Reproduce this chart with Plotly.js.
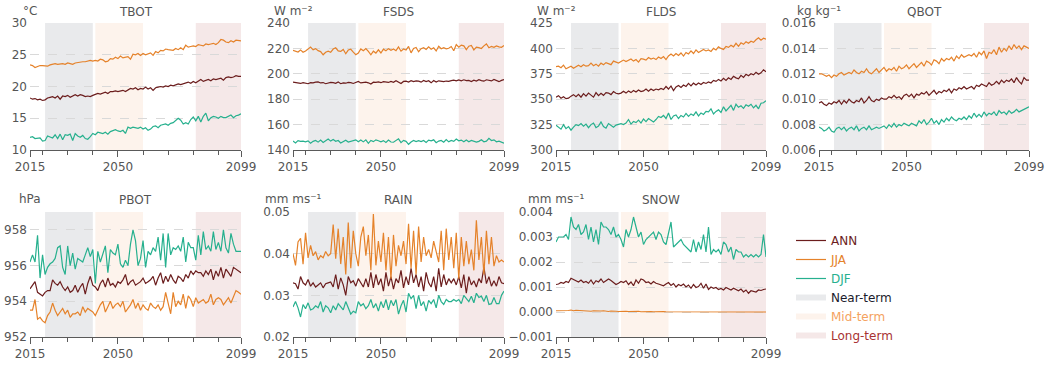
<!DOCTYPE html>
<html>
<head>
<meta charset="utf-8">
<script src="https://cdn.plot.ly/plotly-3.0.1.min.js"></script>
<style>html,body{margin:0;padding:0;background:#fff;}#chart{width:1047px;height:367px;}</style>
</head>
<body>
<div id="chart"></div>
<script>
// ---------------- DATA ----------------
const startYear = 2015, endYear = 2099;
const years = Array.from({length: endYear - startYear + 1}, (_, i) => startYear + i);
const variables = ["TBOT", "FSDS", "FLDS", "QBOT", "PBOT", "RAIN", "SNOW"];
const units = ["°C", "W m⁻²", "W m⁻²", "kg kg⁻¹", "hPa", "mm ms⁻¹", "mm ms⁻¹"];
const seasons = ["ANN", "JJA", "DJF"];
const periodNames = ["Near-term", "Mid-term", "Long-term"];
const periodStart = [2021, 2041, 2081];
const periodEnd = [2040, 2060, 2100];
const xTickLabels = [2015, 2050, 2099];
const xMinorTicks = [2020, 2030, 2040, 2050, 2060, 2070, 2080, 2090];

const tbotANN = [18.2,18.0,18.1,17.9,18.0,17.8,17.9,18.2,18.3,18.4,
  18.2,18.5,18.0,18.5,18.4,18.6,18.3,18.5,18.7,18.5,
  18.7,18.6,18.4,18.5,18.4,18.6,18.8,18.9,18.8,19.0,
  19.1,18.9,19.2,19.2,19.3,19.2,19.3,19.4,19.2,19.5,
  19.7,19.6,19.8,19.5,19.7,19.6,19.9,19.6,19.8,19.4,
  19.8,19.9,20.0,19.9,20.1,20.0,20.2,20.1,20.3,20.4,
  20.3,20.4,20.6,20.7,20.5,20.8,20.6,20.9,21.1,20.8,
  21.0,21.1,20.9,21.2,21.1,21.2,21.3,21.0,21.4,21.5,
  21.4,21.5,21.7,21.6,21.6];
const tbotJJA = [23.4,23.3,23.0,23.2,23.3,23.3,23.3,23.2,23.4,23.5,
  23.6,23.5,23.6,23.6,23.5,23.7,23.6,23.5,23.7,23.8,
  23.8,23.9,23.9,24.0,24.1,24.0,24.1,24.0,24.3,24.2,
  23.9,24.0,24.4,24.3,24.6,24.4,24.8,24.5,24.6,24.7,
  24.3,25.1,25.0,25.2,24.9,25.2,25.0,25.1,25.3,24.9,
  25.5,25.3,25.7,25.6,25.9,25.8,25.7,25.7,26.0,25.8,
  26.1,25.8,26.5,26.2,26.3,26.4,26.3,26.6,26.5,26.4,
  26.7,26.6,26.7,26.8,26.6,26.9,27.4,27.3,27.0,26.9,
  27.2,27.0,27.3,27.2,27.2];
const tbotDJF = [12.0,12.1,11.8,11.9,11.9,11.4,11.5,12.2,12.1,11.9,
  12.4,11.8,12.5,11.6,12.4,12.3,12.5,11.5,12.6,12.2,
  12.0,12.3,11.8,11.7,12.1,12.6,12.4,12.8,12.7,12.6,
  12.8,12.5,12.9,13.1,13.2,13.0,12.9,13.1,12.6,13.6,
  13.4,13.6,13.5,13.4,13.6,13.3,13.5,13.1,13.3,13.7,
  13.8,13.5,13.9,14.0,14.1,13.9,14.2,14.3,14.6,15.0,
  14.7,14.1,14.3,14.1,14.8,15.2,14.6,15.3,14.4,15.3,
  15.8,14.6,15.1,15.3,15.2,15.0,15.3,15.1,15.1,15.3,
  15.5,15.1,15.4,15.5,15.7];

const fsdsANN = [193.5,193.2,193.0,192.4,193.1,192.6,192.2,193.0,192.8,193.4,
  193.6,192.8,193.1,192.2,192.9,193.3,193.0,192.5,193.5,192.2,
  192.9,192.6,193.2,193.1,192.4,193.3,194.0,192.8,193.0,193.5,
  192.9,192.0,193.4,193.2,193.6,193.0,193.8,193.4,193.2,194.0,
  193.3,194.5,193.6,192.4,194.0,194.2,193.5,194.6,193.8,194.4,
  194.2,193.4,194.8,193.9,194.5,192.9,194.7,193.5,194.5,194.2,
  193.8,194.3,194.0,194.6,195.0,194.5,195.2,194.5,195.3,194.6,
  194.8,193.9,195.0,194.3,195.4,194.6,194.2,195.3,195.0,194.4,
  195.6,194.8,193.8,194.8,195.5];
const fsdsJJA = [218.5,217.6,217.2,218.8,217.0,218.0,219.6,221.0,218.9,219.8,
  218.2,217.5,215.0,217.0,217.8,216.9,219.5,220.5,218.0,217.6,
  219.2,215.8,218.7,219.3,217.0,215.0,216.4,219.6,218.2,219.9,
  217.6,215.0,217.8,216.3,218.9,216.4,219.4,218.2,219.8,218.5,
  219.6,218.2,221.2,217.8,219.5,218.7,221.6,216.5,220.0,220.8,
  217.4,219.8,220.6,219.2,221.2,219.4,220.5,218.0,221.7,219.7,
  220.5,219.6,220.1,221.5,218.2,223.0,221.0,222.6,222.0,219.0,
  221.7,222.3,218.8,221.0,220.6,219.9,222.0,223.5,220.5,221.5,
  220.8,221.9,221.2,220.9,222.2];
const fsdsDJF = [147.0,145.6,147.4,146.8,147.0,146.5,147.2,145.4,146.8,147.5,
  146.2,147.8,146.0,147.5,148.6,147.0,148.2,146.8,147.5,145.5,
  146.9,147.7,146.3,147.0,147.2,148.0,146.5,147.8,146.4,148.0,
  145.2,147.5,146.6,148.0,147.3,146.5,147.4,146.0,147.8,146.3,
  146.1,147.8,148.8,145.8,147.6,146.8,144.5,146.3,147.5,146.7,
  147.3,146.6,147.5,146.0,147.8,147.2,148.0,145.7,147.0,147.5,
  146.2,148.2,146.4,147.5,146.8,148.6,147.2,147.8,146.5,147.8,
  146.5,147.5,147.0,146.2,146.8,148.0,146.5,147.0,149.2,147.5,
  148.0,146.5,147.0,146.0,145.4];

const fldsANN = [352.0,353.5,351.0,352.5,350.5,351.0,353.0,354.5,352.5,354.8,
  352.0,355.5,353.0,356.0,354.0,352.0,356.5,353.5,355.8,353.8,
  356.5,356.0,354.5,357.5,355.8,355.2,356.0,357.8,356.0,358.0,
  356.5,358.5,357.0,359.0,357.5,358.2,360.0,357.8,360.0,358.5,
  360.0,359.2,360.5,359.5,362.5,360.0,363.0,358.5,362.0,363.5,
  361.5,364.0,362.5,365.5,363.0,365.8,364.0,366.0,364.5,366.5,
  365.5,367.0,366.0,368.5,367.5,369.5,368.0,370.5,368.5,371.0,
  369.5,372.5,371.0,370.0,373.5,371.5,374.5,373.0,375.0,374.0,
  376.5,374.5,376.0,379.0,377.0];
const fldsJJA = [382.0,382.5,381.0,383.5,380.0,381.5,382.5,380.5,382.0,383.5,
  382.0,384.0,382.5,383.0,385.5,383.0,384.5,382.5,385.5,384.0,
  386.0,385.0,384.0,387.5,386.5,385.5,387.0,388.5,387.0,388.0,
  389.5,387.5,389.0,386.5,390.0,389.5,388.5,391.0,389.5,390.5,
  389.0,391.5,390.0,392.0,389.0,392.5,394.5,392.5,395.0,393.0,
  395.5,392.5,396.0,394.5,397.5,395.0,398.5,396.0,397.5,399.0,
  397.5,398.5,397.0,400.0,398.5,401.5,400.0,399.0,402.0,401.0,
  403.0,401.5,405.0,402.0,405.5,404.0,406.5,405.0,407.0,406.0,
  408.5,410.5,408.0,410.0,409.0];
const fldsDJF = [324.5,322.0,320.5,325.0,321.0,323.0,319.5,322.5,325.0,324.0,
  326.0,323.5,325.5,322.0,325.0,326.5,322.0,323.5,327.5,323.0,
  321.5,326.0,324.5,322.5,324.5,325.0,326.0,325.0,326.5,330.0,
  325.5,328.0,327.0,329.5,326.5,330.5,328.0,331.0,329.5,327.5,
  330.0,333.0,332.0,334.0,331.0,336.5,330.0,333.5,334.5,331.0,
  334.0,332.5,336.0,333.0,335.5,334.0,337.5,333.5,336.5,335.0,
  338.0,337.5,340.5,335.5,338.0,339.5,337.0,342.5,338.5,341.0,
  344.0,339.0,345.0,342.0,343.5,341.0,344.5,343.0,345.0,341.5,
  344.0,340.5,346.0,346.5,348.5];

const qbotANN = [0.0097,0.0098,0.0096,0.0095,0.0097,0.0096,0.0098,0.0097,0.0099,0.0096,
  0.0099,0.0097,0.0100,0.0098,0.0097,0.0099,0.0098,0.0101,0.0097,0.0099,
  0.0102,0.0099,0.0098,0.0100,0.0099,0.0101,0.0100,0.0100,0.0102,0.0101,
  0.0103,0.0101,0.0102,0.0100,0.0103,0.0104,0.0102,0.0104,0.0101,0.0104,
  0.0103,0.0105,0.0104,0.0106,0.0103,0.0105,0.0107,0.0104,0.0106,0.0105,
  0.0107,0.0106,0.0108,0.0105,0.0108,0.0107,0.0109,0.0108,0.0110,0.0108,
  0.0109,0.0110,0.0108,0.0111,0.0110,0.0112,0.0111,0.0110,0.0113,0.0111,
  0.0112,0.0114,0.0112,0.0115,0.0113,0.0115,0.0114,0.0116,0.0113,0.0117,
  0.0114,0.0112,0.0117,0.0115,0.0115];
const qbotJJA = [0.0120,0.0120,0.0119,0.0118,0.0119,0.0117,0.0119,0.0118,0.0120,0.0121,
  0.0119,0.0120,0.0121,0.0120,0.0123,0.0121,0.0120,0.0122,0.0121,0.0124,
  0.0121,0.0120,0.0122,0.0124,0.0121,0.0123,0.0125,0.0122,0.0124,0.0123,
  0.0125,0.0122,0.0126,0.0124,0.0125,0.0127,0.0124,0.0126,0.0128,0.0125,
  0.0127,0.0129,0.0126,0.0130,0.0129,0.0127,0.0131,0.0130,0.0128,0.0132,
  0.0130,0.0132,0.0131,0.0133,0.0130,0.0134,0.0132,0.0135,0.0133,0.0134,
  0.0135,0.0134,0.0136,0.0133,0.0137,0.0135,0.0138,0.0132,0.0137,0.0136,
  0.0139,0.0135,0.0141,0.0137,0.0140,0.0138,0.0142,0.0139,0.0143,0.0140,
  0.0142,0.0139,0.0142,0.0141,0.0140];
const qbotDJF = [0.0078,0.0077,0.0075,0.0076,0.0078,0.0075,0.0074,0.0077,0.0078,0.0076,
  0.0078,0.0075,0.0077,0.0078,0.0076,0.0079,0.0075,0.0077,0.0078,0.0076,
  0.0079,0.0076,0.0077,0.0078,0.0077,0.0078,0.0079,0.0077,0.0080,0.0078,
  0.0081,0.0078,0.0080,0.0079,0.0081,0.0080,0.0079,0.0081,0.0080,0.0079,
  0.0083,0.0081,0.0084,0.0080,0.0082,0.0085,0.0081,0.0083,0.0080,0.0084,
  0.0082,0.0085,0.0083,0.0086,0.0084,0.0083,0.0085,0.0084,0.0086,0.0084,
  0.0087,0.0085,0.0089,0.0086,0.0088,0.0086,0.0090,0.0087,0.0089,0.0088,
  0.0090,0.0087,0.0091,0.0089,0.0090,0.0088,0.0091,0.0089,0.0090,0.0092,
  0.0090,0.0091,0.0092,0.0093,0.0094];

const pbotANN = [954.7,954.9,955.1,954.5,954.4,954.3,954.5,954.6,954.6,955.2,
  955.0,954.9,955.1,954.8,954.6,954.8,954.5,954.6,954.9,954.5,
  954.8,955.0,954.4,955.0,955.4,954.9,954.8,954.6,955.0,955.2,
  954.8,955.3,954.9,955.0,954.8,955.1,955.0,955.2,955.5,954.9,
  955.1,955.2,954.9,955.0,955.1,955.3,955.0,955.1,955.2,955.4,
  954.9,955.3,955.6,955.0,955.4,955.1,955.5,955.2,955.0,955.4,
  955.3,955.1,955.5,955.3,955.7,955.5,955.7,955.6,955.6,955.4,
  955.7,955.5,955.8,955.2,955.7,955.4,955.9,955.3,955.8,955.6,
  955.4,955.9,955.8,955.7,955.6];
const pbotJJA = [953.5,953.5,954.1,953.0,953.1,952.9,952.8,953.2,953.4,953.9,
  953.5,953.2,953.4,953.6,953.3,953.5,953.1,953.3,953.3,953.4,
  953.2,953.7,953.4,953.6,953.5,953.4,953.2,953.5,953.8,954.0,
  953.4,953.7,954.0,953.6,953.8,953.9,953.7,954.0,953.4,953.6,
  953.8,954.1,953.6,953.9,953.5,953.8,953.6,953.5,953.9,953.7,
  953.6,953.8,953.5,953.7,954.5,953.9,953.3,954.5,953.7,954.0,
  953.8,954.4,953.6,954.3,954.1,953.7,954.2,953.9,954.0,954.1,
  953.9,954.0,954.4,953.8,954.1,954.2,954.1,953.8,954.0,954.2,
  953.9,954.3,954.6,954.5,954.4];
const pbotDJF = [956.2,956.6,956.2,957.7,955.3,956.6,955.5,955.9,956.1,956.2,
  956.4,957.0,957.1,955.9,955.5,957.1,956.0,956.7,955.8,956.4,
  956.3,956.2,956.6,957.0,956.5,956.9,955.0,956.8,956.2,956.7,
  957.1,955.6,956.9,956.7,956.6,957.2,956.1,955.9,956.3,956.0,
  957.2,958.0,957.4,956.0,956.4,957.4,955.9,956.8,956.6,957.0,
  956.8,957.6,956.3,957.8,955.9,957.8,956.6,957.0,956.9,957.1,
  956.8,957.6,956.2,957.3,957.0,957.0,956.3,957.7,956.6,957.9,
  956.9,957.1,956.8,957.9,956.9,957.3,956.8,958.0,957.0,956.7,
  957.8,957.2,956.8,956.8,956.8];

const rainANN = [0.0330,0.0328,0.0315,0.0345,0.0330,0.0325,0.0338,0.0322,0.0330,0.0320,
  0.0325,0.0330,0.0318,0.0328,0.0330,0.0332,0.0320,0.0350,0.0315,0.0342,
  0.0325,0.0300,0.0345,0.0330,0.0335,0.0322,0.0340,0.0330,0.0320,0.0340,
  0.0320,0.0355,0.0318,0.0350,0.0325,0.0340,0.0310,0.0355,0.0322,0.0345,
  0.0315,0.0340,0.0330,0.0360,0.0318,0.0345,0.0325,0.0365,0.0330,0.0350,
  0.0320,0.0345,0.0310,0.0355,0.0330,0.0320,0.0345,0.0310,0.0365,0.0320,
  0.0350,0.0325,0.0340,0.0330,0.0340,0.0325,0.0345,0.0318,0.0350,0.0305,
  0.0345,0.0325,0.0335,0.0320,0.0340,0.0330,0.0368,0.0328,0.0345,0.0322,
  0.0335,0.0322,0.0345,0.0330,0.0328];
const rainJJA = [0.0400,0.0372,0.0428,0.0437,0.0375,0.0450,0.0390,0.0420,0.0395,0.0405,
  0.0385,0.0395,0.0390,0.0405,0.0395,0.0400,0.0470,0.0388,0.0460,0.0375,
  0.0440,0.0350,0.0475,0.0365,0.0455,0.0400,0.0370,0.0440,0.0465,0.0395,
  0.0445,0.0360,0.0495,0.0372,0.0430,0.0380,0.0450,0.0360,0.0440,0.0340,
  0.0445,0.0370,0.0420,0.0395,0.0430,0.0375,0.0472,0.0365,0.0455,0.0350,
  0.0465,0.0380,0.0440,0.0395,0.0410,0.0390,0.0430,0.0405,0.0380,0.0455,
  0.0360,0.0460,0.0385,0.0440,0.0365,0.0450,0.0340,0.0440,0.0370,0.0430,
  0.0375,0.0410,0.0360,0.0480,0.0385,0.0440,0.0350,0.0455,0.0375,0.0440,
  0.0370,0.0395,0.0380,0.0385,0.0380];
const rainDJF = [0.0272,0.0285,0.0270,0.0248,0.0278,0.0268,0.0282,0.0265,0.0268,0.0275,
  0.0270,0.0285,0.0260,0.0275,0.0270,0.0258,0.0275,0.0265,0.0280,0.0272,
  0.0265,0.0285,0.0270,0.0255,0.0262,0.0258,0.0285,0.0275,0.0280,0.0268,
  0.0275,0.0290,0.0270,0.0280,0.0262,0.0285,0.0270,0.0290,0.0265,0.0288,
  0.0275,0.0290,0.0255,0.0275,0.0288,0.0260,0.0305,0.0292,0.0300,0.0268,
  0.0300,0.0275,0.0285,0.0262,0.0288,0.0280,0.0290,0.0270,0.0300,0.0285,
  0.0278,0.0290,0.0285,0.0285,0.0290,0.0286,0.0290,0.0280,0.0300,0.0292,
  0.0285,0.0298,0.0282,0.0305,0.0295,0.0298,0.0285,0.0300,0.0278,0.0280,
  0.0295,0.0280,0.0280,0.0300,0.0310];

const snowANN = [0.00110,0.00112,0.00118,0.00115,0.00122,0.00118,0.00135,0.00130,0.00125,0.00120,
  0.00128,0.00118,0.00122,0.00115,0.00128,0.00112,0.00125,0.00120,0.00132,0.00118,
  0.00125,0.00132,0.00126,0.00118,0.00110,0.00115,0.00122,0.00118,0.00125,0.00110,
  0.00120,0.00105,0.00128,0.00115,0.00132,0.00128,0.00118,0.00120,0.00112,0.00122,
  0.00115,0.00112,0.00108,0.00105,0.00112,0.00118,0.00106,0.00114,0.00100,0.00110,
  0.00105,0.00112,0.00100,0.00108,0.00095,0.00110,0.00098,0.00102,0.00115,0.00095,
  0.00112,0.00090,0.00100,0.00095,0.00098,0.00090,0.00094,0.00088,0.00098,0.00092,
  0.00088,0.00095,0.00090,0.00085,0.00092,0.00080,0.00088,0.00075,0.00085,0.00082,
  0.00080,0.00088,0.00086,0.00090,0.00092];
const snowJJA = [0.00005,0.00005,0.00006,0.00004,0.00005,0.00006,0.00008,0.00005,0.00007,0.00006,
  0.00004,0.00006,0.00005,0.00004,0.00003,0.00005,0.00004,0.00003,0.00004,0.00005,
  0.00003,0.00002,0.00004,0.00005,0.00003,0.00002,0.00003,0.00002,0.00003,0.00002,
  0.00003,0.00002,0.00002,0.00003,0.00001,0.00002,0.00002,0.00001,0.00002,0.00001,
  0.00002,0.00001,0.00001,0.00002,0.00001,0.00001,0.00001,0.00000,0.00001,0.00001,
  0.00001,0.00000,0.00001,0.00000,0.00001,0.00000,0.00000,0.00001,0.00000,0.00000,
  0.00000,0.00001,0.00000,0.00000,0.00000,0.00000,0.00000,0.00000,0.00000,0.00000,
  0.00000,0.00000,0.00000,0.00000,0.00000,0.00000,0.00000,0.00000,0.00000,0.00000,
  0.00000,0.00000,0.00000,0.00000,0.00000];
const snowDJF = [0.0028,0.0030,0.0030,0.0030,0.0031,0.0029,0.0038,0.0034,0.0033,0.0035,
  0.0031,0.0032,0.0035,0.0029,0.0034,0.0028,0.0033,0.0027,0.0036,0.0034,
  0.0034,0.0033,0.0031,0.0034,0.0030,0.0031,0.0029,0.0026,0.0033,0.0030,
  0.0033,0.0038,0.0034,0.0030,0.0032,0.0027,0.0029,0.0030,0.0031,0.0032,
  0.0029,0.0032,0.0031,0.0028,0.0027,0.0032,0.0036,0.0026,0.0027,0.0028,
  0.0029,0.0027,0.0026,0.0025,0.0024,0.0029,0.0024,0.0028,0.0025,0.0031,
  0.0024,0.0034,0.0023,0.0025,0.0024,0.0025,0.0023,0.0028,0.0027,0.0024,
  0.0026,0.0021,0.0025,0.0024,0.0024,0.0022,0.0023,0.0022,0.0023,0.0022,
  0.0023,0.0022,0.0023,0.0031,0.0022];

const seriesByVar = [
  [tbotANN, tbotJJA, tbotDJF],
  [fsdsANN, fsdsJJA, fsdsDJF],
  [fldsANN, fldsJJA, fldsDJF],
  [qbotANN, qbotJJA, qbotDJF],
  [pbotANN, pbotJJA, pbotDJF],
  [rainANN, rainJJA, rainDJF],
  [snowANN, snowJJA, snowDJF]
];

// ---------------- STYLE ----------------
const W = 1047, H = 367;
const seasonColors = ["#6b1d1d", "#e5822a", "#26b08e"];
const periodColors = ["#e9eaec", "#fdf3ec", "#f5e8e8"];
const periodTextColors = ["#1b1b2b", "#f4a25e", "#a83232"];
const axisGray = "#5a5a5a";
const textGray = "#555555";
const FONT = "DejaVu Sans, sans-serif";
const panelX = [[30, 241], [293, 504], [556, 766], [819, 1029]];
const panelY = [[23, 150], [212, 337]];
const yRanges = [[10, 30], [140, 240], [300, 425], [0.006, 0.016], [952, 959], [0.02, 0.05], [-0.001, 0.004]];
const yTicks = [[10, 15, 20, 25, 30], [140, 160, 180, 200, 220, 240], [300, 325, 350, 375, 400, 425],
  [0.006, 0.008, 0.010, 0.012, 0.014, 0.016], [952, 954, 956, 958], [0.02, 0.03, 0.04, 0.05],
  [-0.001, 0, 0.001, 0.002, 0.003, 0.004]];
const yFormats = ["", "", "", ".3f", "", ".2f", ".3f"];

const traces = [];
const layout = {
  width: W, height: H,
  margin: {l: 0, r: 0, t: 0, b: 0},
  paper_bgcolor: "#ffffff", plot_bgcolor: "rgba(0,0,0,0)",
  font: {family: FONT, size: 12, color: textGray},
  showlegend: true,
  legend: {
    x: 791 / W, y: 1 - 226 / H, xanchor: "left", yanchor: "top",
    font: {family: FONT, size: 12}, bgcolor: "rgba(0,0,0,0)", borderwidth: 0,
    tracegroupgap: 0, itemwidth: 30
  },
  shapes: [], annotations: []
};

variables.forEach((name, k) => {
  const row = k < 4 ? 0 : 1;
  const col = k < 4 ? k : k - 4;
  const n = k + 1;
  const xa = "xaxis" + (n === 1 ? "" : n);
  const ya = "yaxis" + (n === 1 ? "" : n);
  const xr = "x" + (n === 1 ? "" : n);
  const yr = "y" + (n === 1 ? "" : n);
  const [px0, px1] = panelX[col];
  const [py0, py1] = panelY[row];
  layout[xa] = {
    domain: [px0 / W, px1 / W], anchor: yr, range: [startYear, endYear],
    tickmode: "array", tickvals: xTickLabels, ticktext: xTickLabels.map(String),
    ticks: "outside", ticklen: 6, tickwidth: 1, tickcolor: axisGray,
    showline: true, linecolor: axisGray, linewidth: 1,
    showgrid: false, zeroline: false, fixedrange: true,
    tickfont: {family: FONT, size: 12, color: textGray},
    minor: {tickmode: "array", tickvals: xMinorTicks, ticks: "outside", ticklen: 3.5, tickwidth: 1, tickcolor: axisGray, showgrid: false}
  };
  layout[ya] = {
    domain: [1 - py1 / H, 1 - py0 / H], anchor: xr, range: yRanges[k],
    tickmode: "array", tickvals: yTicks[k],
    tickformat: yFormats[k],
    ticks: "", showline: false, zeroline: false,
    showgrid: true, gridcolor: "#d9d9d9", griddash: "dash", gridwidth: 1,
    ticklabelstandoff: 2,
    tickfont: {family: FONT, size: 12, color: textGray}, fixedrange: true
  };
  // period shading
  periodStart.forEach((p0, j) => {
    layout.shapes.push({
      type: "rect", xref: xr, yref: yr + " domain",
      x0: p0, x1: Math.min(periodEnd[j], endYear), y0: 0, y1: 1,
      fillcolor: periodColors[j], line: {width: 0}, layer: "below"
    });
  });
  // panel title and unit
  const titleY = row === 0 ? 12 : 200;
  layout.annotations.push({
    xref: "paper", yref: "paper", x: (px0 + px1) / 2 / W, y: 1 - titleY / H,
    xanchor: "center", yanchor: "middle", showarrow: false, text: name,
    font: {family: FONT, size: 12, color: textGray}
  });
  layout.annotations.push({
    xref: "paper", yref: "paper", x: px0 / W, y: 1 - (titleY - 1) / H,
    xanchor: "center", yanchor: "middle", showarrow: false, text: units[k],
    font: {family: FONT, size: 12, color: textGray}
  });
  seasons.forEach((s, i) => {
    traces.push({
      type: "scatter", mode: "lines", x: years, y: seriesByVar[k][i],
      xaxis: xr, yaxis: yr, name: `<span style="color:${seasonColors[i]}">${s}</span>`,
      legendgroup: s, showlegend: k === 0,
      line: {color: seasonColors[i], width: 1.2}, hoverinfo: "skip"
    });
  });
});

// legend entries for the shaded periods
periodNames.forEach((p, j) => {
  traces.push({
    type: "scatter", mode: "none", x: [null], y: [null], xaxis: "x", yaxis: "y",
    fill: "toself", fillcolor: periodColors[j],
    name: `<span style="color:${periodTextColors[j]}">${p}</span>`, showlegend: true,
    hoverinfo: "skip"
  });
});

Plotly.newPlot("chart", traces, layout, {staticPlot: true, displayModeBar: false});
</script>
</body>
</html>
